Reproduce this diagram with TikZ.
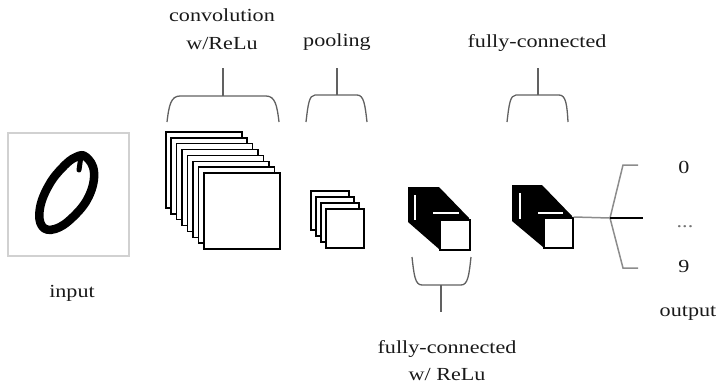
\documentclass[tikz,border=0pt]{standalone}
\usepackage{fontspec}
\setmainfont{Liberation Serif}[FakeStretch=1.2]
\begin{document}
\begin{tikzpicture}[x=1bp,y=-1bp,
  lbl/.style={font=\fontsize{18.5}{22}\selectfont, inner sep=0pt, anchor=base, text=black!90},
  brace/.style={draw=black!62, line width=1.3bp},
  sheet/.style={draw=black, fill=white, line width=1.6bp, inner sep=0pt, anchor=north west},
  fork/.style={draw=black!45, line width=1.5bp},
  gap/.style={draw=white, line width=1.5bp}]
\useasboundingbox (0,0) rectangle (717,386);

% input image
\node[draw=black!18, line width=2bp, minimum width=121bp, minimum height=123bp, inner sep=0pt, anchor=north west] (img) at (7,132) {};
\draw[line width=8.5bp, black, line cap=round, line join=round]
  plot[smooth cycle, tension=0.7] coordinates {(86,157) (94,172) (89,196) (73,217) (55,229) (42,226) (40,208) (49,185) (63,167) (76,157)};
\draw[line width=5bp, black, line cap=round] (81,156) -- (79,170);
\node[lbl] (lin) at (72,297) {input};

% convolution stack
\foreach \i in {0,...,7}
  \node[sheet, minimum width=76bp, minimum height=76bp] (c\i) at ({165+\i*5.43},{131+\i*5.9}) {};
\node[lbl] (lconv1) at (222,21) {convolution};
\node[lbl] (lconv2) at (222,49) {w/ReLu};
\draw[brace] (167,122) .. controls (169,105) and (171,96) .. (180,96) -- (266,96) .. controls (275,96) and (277,105) .. (279,122);
\draw[brace] (223,96) -- (223,68);

% pooling stack
\foreach \i in {0,...,3}
  \node[sheet, minimum width=38bp, minimum height=39bp] (p\i) at ({310+\i*5},{190+\i*6}) {};
\node[lbl] (lpool) at (337,46) {pooling};
\draw[brace] (306,122) .. controls (308,105) and (309,95) .. (315,95) -- (357,95) .. controls (364,95) and (365,105) .. (367,122);
\draw[brace] (337,95) -- (337,68);

% fully connected block 1
\fill[black] (408,187) -- (439,187) -- (469,218) -- (469,249) -- (439,249) -- (408,222) -- cycle;
\node[sheet, minimum width=30bp, minimum height=30bp] (f1) at (439,219) {};
\draw[gap] (415,195) -- (415,220);
\draw[gap] (433,213) -- (459,213);
\draw[brace] (412,257) .. controls (414,275) and (415,285) .. (422,285) -- (461,285) .. controls (468,285) and (469,275) .. (471,257);
\draw[brace] (441,285) -- (441,312);
\node[lbl] (lfc1a) at (447,353) {fully-connected};
\node[lbl] (lfc1b) at (447,380) {w/ ReLu};

% fully connected block 2
\fill[black] (512,185) -- (542,185) -- (572,216) -- (572,247) -- (543,247) -- (512,221) -- cycle;
\node[sheet, minimum width=29bp, minimum height=30bp] (f2) at (543,217) {};
\draw[gap] (520,193) -- (520,219);
\draw[gap] (538,213) -- (563,213);
\node[lbl] (lfc2) at (537,47) {fully-connected};
\draw[brace] (507,122) .. controls (509,105) and (510,95) .. (516,95) -- (559,95) .. controls (566,95) and (567,105) .. (568,122);
\draw[brace] (538,95) -- (538,68);

% output fork
\coordinate (fk) at (610,218);
\coordinate (up) at (623,165);
\coordinate (upe) at (638,165);
\coordinate (dn) at (623,268);
\coordinate (dne) at (638,268);
\coordinate (mid) at (643,218);
\draw[fork] (f2.north east) -- (fk);
\draw[fork] (upe) -- (up) -- (fk) -- (dn) -- (dne);
\draw[black, line width=1.5bp] (fk) -- (mid);
\node[lbl] (o0) at (684,173) {0};
\node[lbl, text=black!55] (odots) at (685,227) {...};
\node[lbl] (o9) at (684,272) {9};
\node[lbl] (lout) at (688,316) {output};
\end{tikzpicture}
\end{document}
